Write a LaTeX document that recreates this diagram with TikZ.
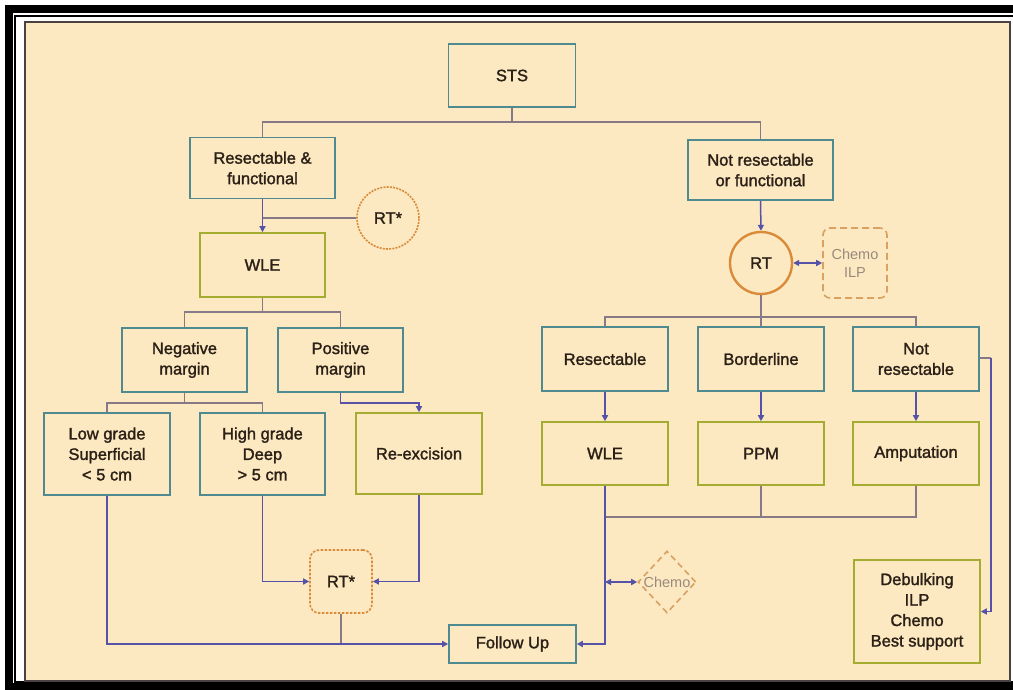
\documentclass[tikz,border=0pt]{standalone}
\usepackage{fontspec}
\setmainfont{Liberation Sans}[BoldFont={Liberation Sans}, BoldFeatures={FakeBold=1.6}]
\usetikzlibrary{arrows.meta,shapes.geometric}
\definecolor{cream}{HTML}{FCE8C1}
\definecolor{tealc}{HTML}{4E8A90}
\definecolor{greenc}{HTML}{A4AC32}
\definecolor{txtc}{HTML}{2A2016}
\definecolor{treec}{HTML}{857A86}
\definecolor{arrc}{HTML}{5552A8}
\definecolor{orc}{HTML}{D98B3A}
\definecolor{lorc}{HTML}{D9A262}
\definecolor{ltxt}{HTML}{9A8A7C}
\definecolor{framec}{HTML}{4A4242}
\tikzset{
  basebox/.style={line width=1.6pt, align=center, inner sep=0pt, text=txtc,
    font=\fontsize{16.5}{20.5}\selectfont\bfseries},
  tbox/.style={basebox, draw=tealc},
  gbox/.style={basebox, draw=greenc},
  treeline/.style={draw=treec, line width=1.5pt},
  arrline/.style={draw=arrc, line width=1.5pt, -{Triangle[length=6pt,width=6pt]}},
  dblline/.style={draw=arrc, line width=1.5pt, {Triangle[length=6pt,width=6pt]}-{Triangle[length=6pt,width=6pt]}},
}
\begin{document}
\begin{tikzpicture}[x=1pt,y=-1pt]
\useasboundingbox (0,0) rectangle (1013,690);
% frame
\fill[white] (0,0) rectangle (1013,690);
\fill[black] (5,5) rectangle (1013,690);
\fill[white] (13,13) rectangle (1013,683);
\draw[black, line width=2pt] (15,16) rectangle (1020,682);
\fill[white] (16,17) rectangle (1013,681);
\draw[framec, line width=2pt, fill=cream] (25,22) rectangle (1010,681);

% nodes
\node[tbox, minimum width=127pt, minimum height=63pt] (STS) at (512,75.5) {STS};
\node[tbox, minimum width=145pt, minimum height=61pt] (ResF) at (262.5,168) {Resectable \&\\functional};
\node[tbox, minimum width=145pt, minimum height=60pt] (NotRF) at (760.5,170) {Not resectable\\or functional};
\node[gbox, minimum width=125pt, minimum height=64pt] (WLEa) at (262.5,265) {WLE};
\node[circle, draw=orc, line width=1.6pt, dash pattern=on 2pt off 1.2pt, minimum size=62pt, inner sep=0pt,
      text=txtc, font=\fontsize{16.5}{20}\selectfont\bfseries] (RTs) at (388,218) {RT*};
\node[tbox, minimum width=125pt, minimum height=64pt] (Neg) at (184.5,360) {Negative\\margin};
\node[tbox, minimum width=125pt, minimum height=64pt] (Pos) at (340.5,360) {Positive\\margin};
\node[tbox, minimum width=126pt, minimum height=82pt] (Low) at (107,454) {Low grade\\Superficial\\< 5 cm};
\node[tbox, minimum width=125pt, minimum height=82pt] (High) at (262.5,454) {High grade\\Deep\\> 5 cm};
\node[gbox, minimum width=126pt, minimum height=81pt] (Rex) at (419,453.5) {Re-excision};
\node[draw=orc, line width=1.6pt, dash pattern=on 2.5pt off 1.5pt, rounded corners=9pt,
      minimum width=62pt, minimum height=63pt, inner sep=0pt, text=txtc,
      font=\fontsize{16.5}{20}\selectfont\bfseries] (RTd) at (341,581.5) {RT*};
\node[tbox, minimum width=127pt, minimum height=38pt] (FU) at (512.5,644) {Follow Up};

\node[circle, draw=orc, line width=2.4pt, minimum size=62pt, inner sep=0pt,
      text=txtc, font=\fontsize{16.5}{20}\selectfont\bfseries] (RT) at (761,263) {RT};
\node[draw=lorc, line width=1.6pt, dash pattern=on 7pt off 4pt, rounded corners=7pt,
      minimum width=64pt, minimum height=70pt, inner sep=0pt, align=center, text=ltxt,
      font=\fontsize{14.5}{18}\selectfont] (CILP) at (855,263) {Chemo\\ILP};
\node[tbox, minimum width=126pt, minimum height=64pt] (Res) at (605,359) {Resectable};
\node[tbox, minimum width=126pt, minimum height=64pt] (Bord) at (761,359) {Borderline};
\node[tbox, minimum width=126pt, minimum height=64pt] (NotR) at (916,359) {Not\\resectable};
\node[gbox, minimum width=126pt, minimum height=63pt] (WLEb) at (605,453.5) {WLE};
\node[gbox, minimum width=126pt, minimum height=63pt] (PPM) at (761,453.5) {PPM};
\node[gbox, minimum width=126pt, minimum height=63pt] (Amp) at (916,453.5) {Amputation};
\node[diamond, aspect=1, draw=lorc, line width=1.6pt, dash pattern=on 6pt off 4pt,
      minimum width=58pt, minimum height=62pt, inner sep=0pt] (Dia) at (667,582) {};
\node[text=ltxt, font=\fontsize{14.5}{18}\selectfont, inner sep=0pt] (DiaT) at (Dia) {Chemo};
\node[gbox, minimum width=126pt, minimum height=103pt] (Deb) at (917,611.5) {Debulking\\ILP\\Chemo\\Best support};

% junction coordinates
\coordinate (j1) at (512,122);
\coordinate (j2) at (262.5,312);
\coordinate (j3) at (184.5,403);
\coordinate (j4) at (419,403);
\coordinate (j5) at (341,643);
\coordinate (j6) at (761,317);
\coordinate (j7) at (605,517);
\coordinate (j8) at (605,582);
\coordinate (j9) at (991,358);

% left tree
\draw[treeline] (STS.south) -- (j1);
\draw[treeline] (ResF.north) |- (j1) -| (NotRF.north);
\draw[arrline] (ResF.south) -- (WLEa.north);
\draw[treeline] (RTs.west) -- (RTs.west -| ResF.south);
\draw[treeline] (WLEa.south) -- (j2);
\draw[treeline] (Neg.north) |- (j2) -| (Pos.north);
\draw[treeline] (Neg.south) -- (j3);
\draw[treeline] (Low.north) |- (j3) -| (High.north);
\draw[arrline] (Pos.south) |- (j4) -- (Rex.north);
\draw[arrline] (High.south) |- (RTd.west);
\draw[arrline] (Rex.south) |- (RTd.east);
\draw[arrline] (Low.south) |- (FU.west);
\draw[treeline] (RTd.south) -- (j5);

% right tree
\draw[arrline] (NotRF.south) -- (RT.north);
\draw[dblline] (RT.east) -- (CILP.west);
\draw[treeline] (RT.south) -- (j6);
\draw[treeline] (Res.north) |- (j6) -| (NotR.north);
\draw[treeline] (j6) -- (Bord.north);
\draw[arrline] (Res.south) -- (WLEb.north);
\draw[arrline] (Bord.south) -- (PPM.north);
\draw[arrline] (NotR.south) -- (Amp.north);
\draw[treeline] (PPM.south) |- (j7);
\draw[treeline] (Amp.south) |- (j7);
\draw[arrline] (WLEb.south) |- (FU.east);
\draw[dblline] (j8) -- (Dia.west);
\draw[treeline] (NotR.east |- j9) -- (j9);
\draw[arrline] (j9) |- (Deb.east);
\end{tikzpicture}
\end{document}
